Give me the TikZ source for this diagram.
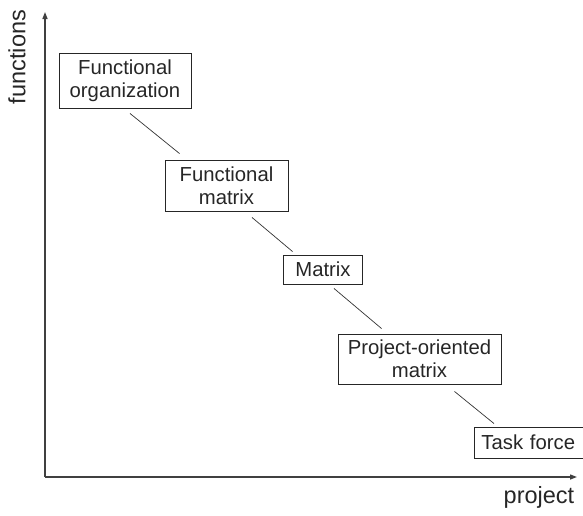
\documentclass[tikz,border=0pt]{standalone}
\usepackage{fontspec}
\setmainfont{Liberation Sans}
\usetikzlibrary{arrows.meta,calc}
\begin{document}
\begin{tikzpicture}[x=1pt,y=-1pt,
  box/.style={draw=black!85,line width=0.9pt,inner sep=0pt,align=center,
    font=\fontsize{20.3}{23}\selectfont,text=black!85},
  conn/.style={draw=black!80,line width=0.7pt},
  axis/.style={draw=black!75,line width=1.3pt,-{Triangle[length=7pt,width=5pt]}},
  lbl/.style={font=\fontsize{23.5}{27}\selectfont,text=black!85,inner sep=0pt}]
\useasboundingbox (0,0) rectangle (583,515);
\coordinate (o) at (45,477);
\coordinate (ytip) at (45,12);
\coordinate (xtip) at (577,477);
\draw[axis] (o) -- (ytip);
\draw[axis] (o) -- (xtip);
\node[lbl,rotate=90] (fl) at (17,57) {functions};
\node[lbl] (pl) at (539,497) {project};

\node[box,minimum width=132pt,minimum height=55pt] (fo) at (125,80.5) {Functional\\organization};
\node[box,minimum width=123pt,minimum height=51pt] (fm) at (226.5,185.5) {Functional\\matrix};
\node[box,minimum width=79pt,minimum height=29pt] (mx) at (323,269.5) {Matrix};
\node[box,minimum width=163pt,minimum height=50pt] (po) at (419.5,359) {Project-oriented\\matrix};
\node[box,minimum height=31pt,align=left,text width=106pt,inner xsep=7pt,anchor=west] (tf) at (474,442.5) {Task force};

\draw[conn] ($(fo.south)+(5,5)$) -- ($(fm.north west)+(15,-6)$);
\draw[conn] ($(fm.south)+(25.5,6)$) -- ($(mx.north west)+(9.5,-3)$);
\draw[conn] ($(mx.south)+(11,4)$) -- ($(po.north west)+(44,-5)$);
\draw[conn] ($(po.south)+(35,7)$) -- ($(tf.north west)+(20,-3)$);
\end{tikzpicture}
\end{document}
